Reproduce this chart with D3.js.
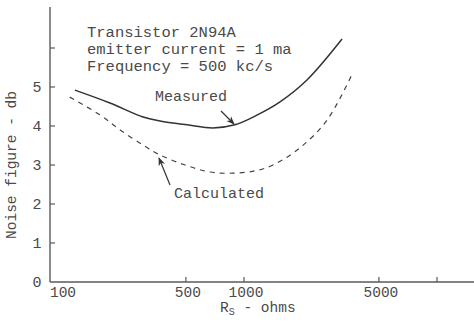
<!DOCTYPE html>
<html><head><meta charset="utf-8">
<script src="https://cdn.jsdelivr.net/npm/d3@7"></script>
<style>
html,body{margin:0;padding:0;background:#fff;}
text{font-family:"Liberation Mono","DejaVu Sans Mono",monospace;fill:#4a4a4a;}
</style></head>
<body>
<script>
// Data
const measuredR   = [133, 202, 300, 367, 507, 690, 897, 1167, 1537, 2120, 3220];
const measuredNF  = [4.92, 4.59, 4.23, 4.13, 4.03, 3.95, 4.03, 4.28, 4.62, 5.18, 6.23];
const calculatedR  = [125, 180, 228, 300, 366, 495, 668, 877, 1140, 1413, 1950, 2692, 3673];
const calculatedNF = [4.74, 4.28, 3.90, 3.51, 3.26, 3.0, 2.82, 2.79, 2.85, 3.0, 3.44, 4.15, 5.38];
const xTickValues = [100, 500, 1000, 5000, 10000];
const xTickLabels = ["100", "500", "1000", "5000", ""];
const yTickValues = [0, 1, 2, 3, 4, 5, 6];
const yTickLabels = ["0", "1", "2", "3", "4", "5", ""];
const titleLines = ["Transistor 2N94A", "emitter current = 1 ma", "Frequency = 500 kc/s"];

const W = 474, H = 329;
const svg = d3.select("body").append("svg").attr("width", W).attr("height", H);

const x = d3.scaleLog().domain([100, 10000]).range([51, 437]);
const y = d3.scaleLinear().domain([0, 6]).range([282, 48]);
const axisColor = "#5a5a5a";

// axes lines
svg.append("line").attr("x1", 50).attr("x2", 474).attr("y1", y(0)).attr("y2", y(0))
  .attr("stroke", axisColor).attr("stroke-width", 1.4);
svg.append("line").attr("x1", 50).attr("x2", 50).attr("y1", 7).attr("y2", y(0))
  .attr("stroke", axisColor).attr("stroke-width", 1.4);

// x ticks (inward)
xTickValues.forEach((v, i) => {
  if (i > 0) svg.append("line").attr("x1", x(v)).attr("x2", x(v)).attr("y1", y(0)).attr("y2", y(0) - 5)
    .attr("stroke", axisColor).attr("stroke-width", 1.2);
  if (xTickLabels[i]) svg.append("text").attr("x", x(v) + (i === 0 ? 12 : 2)).attr("y", 297)
    .attr("text-anchor", "middle").attr("font-size", 14.5).text(xTickLabels[i]);
});
// y ticks (inward)
yTickValues.forEach((v, i) => {
  if (i > 0) svg.append("line").attr("x1", 50).attr("x2", 55).attr("y1", y(v)).attr("y2", y(v))
    .attr("stroke", axisColor).attr("stroke-width", 1.2);
  if (yTickLabels[i]) svg.append("text").attr("x", 37).attr("y", y(v) + 5)
    .attr("text-anchor", "middle").attr("font-size", 15).text(yTickLabels[i]);
});

// axis titles
svg.append("text").attr("transform", "translate(16,165) rotate(-90)")
  .attr("text-anchor", "middle").attr("font-size", 14.5).text("Noise figure - db");
const xt = svg.append("text").attr("x", 220).attr("y", 312).attr("font-size", 14.5);
xt.append("tspan").text("R");
xt.append("tspan").attr("font-size", 10).attr("dy", 3).text("S");
xt.append("tspan").attr("dy", -3).text(" - ohms");

// curves
const line = d3.line().x(d => x(d[0])).y(d => y(d[1])).curve(d3.curveCatmullRom.alpha(0.5));
svg.append("path").attr("d", line(d3.zip(measuredR, measuredNF)))
  .attr("fill", "none").attr("stroke", "#333").attr("stroke-width", 1.5);
svg.append("path").attr("d", line(d3.zip(calculatedR, calculatedNF)))
  .attr("fill", "none").attr("stroke", "#444").attr("stroke-width", 1.2)
  .attr("stroke-dasharray", "5,5");

// title text
titleLines.forEach((t, i) => {
  svg.append("text").attr("x", 87).attr("y", 37 + i * 17).attr("font-size", 15.5).text(t);
});

// annotations
svg.append("text").attr("x", 155).attr("y", 101).attr("font-size", 15).text("Measured");
svg.append("text").attr("x", 174).attr("y", 198).attr("font-size", 15).text("Calculated");

const defs = svg.append("defs");
defs.append("marker").attr("id", "ah").attr("viewBox", "0 0 10 10").attr("refX", 9).attr("refY", 5)
  .attr("markerWidth", 7).attr("markerHeight", 7).attr("orient", "auto")
  .append("path").attr("d", "M0,1 L10,5 L0,9 L3,5 Z").attr("fill", "#333");
svg.append("line").attr("x1", 221).attr("y1", 111).attr("x2", 234).attr("y2", 124)
  .attr("stroke", "#333").attr("stroke-width", 1.2).attr("marker-end", "url(#ah)");
svg.append("line").attr("x1", 170).attr("y1", 185).attr("x2", 159).attr("y2", 158)
  .attr("stroke", "#333").attr("stroke-width", 1.2).attr("marker-end", "url(#ah)");
</script>
</body></html>
